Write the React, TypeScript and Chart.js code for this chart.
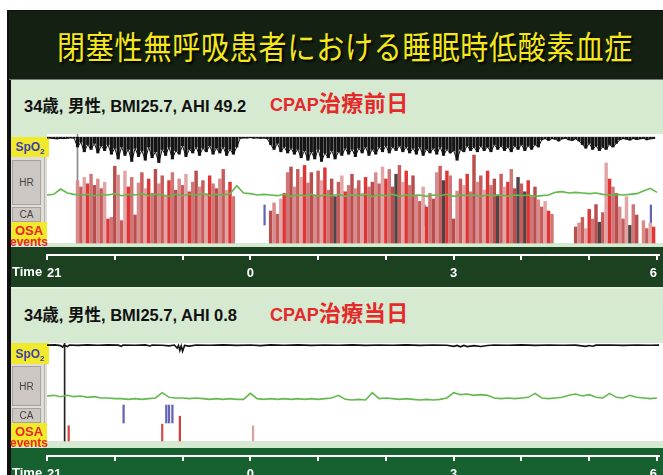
import React, { useEffect, useRef } from 'react';
import { Chart, registerables } from 'chart.js';

Chart.register(...registerables);

// ---------------- text ----------------
const titleText = '閉塞性無呼吸患者における睡眠時低酸素血症';
const patientText = ['34歳, 男性, BMI25.7, AHI 49.2', '34歳, 男性, BMI25.7, AHI 0.8'];
const conditionPrefix = 'CPAP';
const conditionText = ['治療前日', '治療当日'];
const timeTickLabels = ['21', '', '', '0', '', '', '3', '', '', '6'];
const timeAxisTitle = 'Time';

// ---------------- panel 1 (before CPAP) ----------------
// one value per 3-minute slot from 21:00
const SLOT_HOURS = 0.05;
const HR_STEP_HOURS = 0.1;
const X_MAX = 9.03;
const SPO2_BASE1 = 98.2;

const spo2Low1 = [
  97.6, 97.4, 97.0, 96.8, 97.2, 97.0, 97.3, 97.6, 97.4,
  90, 94, 86, 92, 88, 93, 85, 91, 87, 92,
  84, 89, 80, 90, 83, 88, 78, 89, 82, 87,
  79, 90, 81, 86, 77, 88, 83, 90, 80, 87,
  84, 91, 82, 88, 85, 90, 83, 89, 86, 91,
  84, 89, 85, 90, 83, 88, 84, 90,
  97.2, 97.6, 97.5, 97.8, 97.4, 97.6, 97.3, 97.5, 96.9,
  92, 88, 93, 86, 90, 85, 89, 84, 88, 81,
  87, 79, 86, 80, 88, 78, 85, 81, 87, 80,
  86, 83, 89, 84, 88, 82, 89, 85, 90, 83,
  88, 84, 90, 86, 91, 85, 90, 87, 91, 86,
  90, 85, 89, 84, 90, 83, 88, 85, 89, 84,
  90, 83, 88, 85, 87, 79, 88, 86, 91, 87,
  90, 86, 91, 87, 90, 86, 92, 88, 91, 87,
  90, 86, 91, 88, 92, 87, 91, 88, 92, 90,
  96, 97, 95.5, 97, 96.5, 95, 96.8, 97.2, 96, 95.5, 96.8, 95,
  92, 89, 93, 88, 91, 87, 90, 88, 92, 90, 93,
  96, 97, 96.5, 95.8, 97, 96.2, 96.8, 97.2, 96, 96.8, 97,
];

// OSA event duration (s) per slot, 0 = no event
const osaDur1 = [
  0, 0, 0, 0, 0, 0, 0, 0, 0,
  78, 70, 82, 74, 86, 72, 80, 68, 76, 30,
  32, 96, 85, 28, 90, 70, 82, 35, 75, 88,
  68, 80, 62, 92, 74, 84, 60, 78, 88, 66,
  80, 72, 86, 64, 76, 90, 70, 78, 62, 84,
  74, 68, 80, 92, 66, 76, 58,
  0, 0, 0, 0, 0, 0, 0, 0, 0, 0,
  40, 50, 36, 55, 62, 88, 95, 70, 92, 82,
  97, 75, 88, 60, 90, 78, 94, 66, 80, 58,
  76, 84, 64, 72, 86, 68, 78, 62, 82, 70,
  76, 88, 74, 95, 80, 92, 70, 86, 97, 76,
  90, 72, 84, 60, 52, 70, 45, 62, 55, 88,
  96, 78, 90, 84, 30, 65, 80, 72, 86, 64,
  110, 76, 84, 66, 90, 72, 80, 60, 86, 70,
  76, 92, 68, 82, 74, 64, 78, 58, 70, 54,
  45, 52, 40, 36,
  0, 0, 0, 0, 0, 0,
  20, 25, 32, 18, 42, 30, 48, 26, 38,
  100, 80, 70, 62, 45, 30, 58, 22, 48, 35, 0,
  28, 18, 25, 20,
];
const mixedSlots1 = [85, 103, 117, 133, 139, 141, 163, 172];

// heart rate (bpm) every 6 minutes
const hr1 = [
  70, 71, 79, 73, 71, 70, 71, 69, 71, 70,
  72, 69, 71, 70, 72, 69, 71, 70, 68, 71,
  69, 71, 70, 72, 69, 71, 70, 72, 84, 73,
  72, 70, 71, 70, 69, 71, 68, 70, 69, 71,
  68, 70, 69, 71, 68, 70, 69, 71, 68, 70,
  69, 71, 68, 70, 69, 70, 68, 70, 69, 71,
  68, 70, 69, 70, 68, 70, 69, 70, 68, 70,
  69, 70, 68, 69, 70, 74, 75, 73, 74, 73,
  72, 73, 71, 70, 71, 70, 71, 72, 76, 80,
  74,
];
const caTimes1 = [3.21, 5.57, 8.91];
const lightsOff1 = 0.45;

// ---------------- panel 2 (CPAP night) ----------------
const spo2Times2 = [
  0, 0.12, 0.2, 0.23, 0.25, 0.3, 0.33, 0.45, 0.6, 0.75,
  0.9, 1.05, 1.1, 1.12, 1.3, 1.45, 1.52, 1.55, 1.7, 1.8,
  1.88, 1.92, 1.94, 1.96, 1.98, 2.0, 2.03, 2.1, 2.2, 2.4,
  2.6, 2.8, 3.0, 3.15, 3.3, 3.5, 3.7, 3.9, 4.1, 4.3,
  4.5, 4.7, 4.9, 5.1, 5.3, 5.5, 5.7, 5.9, 6.0, 6.05,
  6.1, 6.15, 6.2, 6.3, 6.4, 6.5, 6.6, 6.8, 7.0, 7.2,
  7.4, 7.6, 7.8, 7.95, 8.0, 8.05, 8.1, 8.3, 8.5, 8.7,
  8.9, 9.03,
];
const spo2Vals2 = [
  98.2, 98.4, 97.8, 96.6, 98.1, 97.0, 98.3, 98.0, 98.4, 98.1,
  98.4, 98.2, 97.2, 98.3, 98.1, 98.4, 97.5, 98.3, 98.1, 97.6,
  98.3, 95.8, 98.0, 93.8, 97.6, 93.2, 98.0, 97.4, 98.3, 98.1,
  98.4, 98.0, 98.3, 97.8, 98.4, 98.1, 98.4, 98.0, 98.3, 98.1,
  98.4, 98.0, 98.3, 98.1, 98.4, 98.0, 98.3, 98.1, 97.2, 98.0,
  96.8, 98.0, 97.0, 97.8, 97.1, 97.9, 98.3, 98.1, 98.4, 98.0,
  98.3, 98.1, 98.2, 97.2, 97.9, 97.3, 98.2, 98.3, 98.0, 98.3,
  98.1, 98.2,
];
const hr2 = [
  73, 74, 72, 74, 72, 73, 71, 72, 70, 70,
  69, 69, 68, 69, 68, 69, 70, 78, 71, 70,
  70, 69, 70, 69, 68, 69, 68, 69, 68, 68,
  77, 69, 68, 69, 68, 69, 68, 69, 68, 69,
  68, 69, 70, 74, 68, 67, 68, 67, 78, 69,
  70, 69, 68, 69, 68, 67, 68, 67, 68, 70,
  78, 75, 76, 74, 75, 74, 70, 69, 70, 69,
  70, 71, 77, 70, 69, 70, 71, 74, 76, 73,
  75, 71, 70, 77, 71, 70, 74, 71, 70, 69,
  70,
];
const caTimes2 = [1.13, 1.76, 1.8, 1.85];
const osaTimes2 = [0.32, 1.7, 1.96, 3.04];
const osaDur2 = [19, 21, 31, 19];
const lightsOff2 = 0.26;

// ---------------- helpers ----------------
// axis range so that value v0 sits p0 px below the chart-area top and v1 sits at p1
function band(H: number, v0: number, p0: number, v1: number, p1: number) {
  const s = (p1 - p0) / (v0 - v1);
  const max = v0 + p0 / s;
  return { min: max - H / s, max };
}
const hidden = (r: { min: number; max: number }) => ({
  type: 'linear', display: false, min: r.min, max: r.max, beginAtZero: false, grace: 0,
});

const osaPalette = ['#d98c8c', '#c85c5c', '#e2a5a5', '#e03535', '#d07676', '#b94e4e'];
const osaColor = (mixed: number[]) => (ctx: any) => {
  const raw = ctx.raw;
  if (raw && mixed.includes(Math.round(raw.x / SLOT_HOURS))) return '#4e4444';
  return osaPalette[ctx.dataIndex % osaPalette.length];
};

const tickFont = { family: '"Liberation Sans", Arial, sans-serif', size: 13, weight: 'bold' as const };

function makeConfig(bands: any, datasets: any[]) {
  return {
    type: 'line',
    data: { datasets },
    options: {
      animation: false,
      responsive: false,
      devicePixelRatio: 1,
      events: [],
      layout: { padding: { left: 37, right: 0, top: 0, bottom: 0 } },
      plugins: { legend: { display: false }, tooltip: { enabled: false } },
      scales: {
        x: {
          type: 'linear',
          min: 0,
          max: X_MAX,
          offset: false,
          position: 'bottom',
          afterFit: (s: any) => { s.height = 35; },
          grid: { display: true, drawOnChartArea: false, drawTicks: true, tickLength: 5, color: '#ffffff', lineWidth: 2, offset: false },
          border: { display: true, color: '#ffffff', width: 2 },
          ticks: {
            stepSize: 1, autoSkip: false, includeBounds: false, maxRotation: 0, align: 'inner',
            color: '#ffffff', padding: 6, font: tickFont,
            callback: (v: any) => timeTickLabels[Math.round(Number(v))] ?? '',
          },
        },
        ySpO2: hidden(bands.spo2),
        yHR: hidden(bands.hr),
        yOSA: hidden(bands.osa),
        yCA: hidden(bands.ca),
        yFull: hidden(bands.full),
      },
    },
  };
}

function config1() {
  const H = 121;
  const bands = {
    spo2: band(H, 100, 1, 50, 61),
    hr: band(H, 70, 61, 40, 81),
    osa: band(H, 0, 109, 100, 29),
    ca: band(H, 0, 91, 1, 71),
    full: band(H, 0, 109, 1, 0),
  };
  const datasets = [
    {
      type: 'line', label: 'HR', yAxisID: 'yHR', order: 0,
      data: hr1.map((v, i) => ({ x: i * HR_STEP_HOURS, y: v })),
      borderColor: '#63b84e', borderWidth: 1.6, pointRadius: 0, fill: false, tension: 0,
    },
    {
      type: 'line', label: 'SpO2', yAxisID: 'ySpO2', order: 1,
      data: spo2Low1.map((v, i) => ({ x: i * SLOT_HOURS, y: v })),
      borderColor: '#111111', borderWidth: 1, pointRadius: 0, tension: 0, fill: false,
    },
    {
      type: 'bar', label: 'SpO2 dips', yAxisID: 'ySpO2', order: 1, grouped: false, barThickness: 2.5,
      data: spo2Low1.map((v, i) => ({ x: i * SLOT_HOURS, y: [v, SPO2_BASE1] })),
      backgroundColor: '#151515',
    },
    {
      type: 'bar', label: 'OSA', yAxisID: 'yOSA', order: 2, grouped: false, barThickness: 2.8,
      data: osaDur1.map((v, i) => ({ x: i * SLOT_HOURS, y: v })).filter((d) => d.y > 0),
      backgroundColor: osaColor(mixedSlots1),
    },
    {
      type: 'bar', label: 'CA', yAxisID: 'yCA', order: 2, grouped: false, barThickness: 1.6,
      data: caTimes1.map((t) => ({ x: t, y: [0, 1] })),
      backgroundColor: '#6464b4',
    },
    {
      type: 'bar', label: 'lights', yAxisID: 'yFull', order: 3, grouped: false, barThickness: 1,
      data: [{ x: lightsOff1, y: [0, 1] }],
      backgroundColor: '#8a8a8a',
    },
  ];
  return makeConfig(bands, datasets);
}

function config2() {
  const H = 113;
  const bands = {
    spo2: band(H, 100, 0, 50, 60),
    hr: band(H, 70, 55, 40, 75),
    osa: band(H, 0, 98, 100, 18),
    ca: band(H, 0, 80, 1, 62),
    full: band(H, 0, 98, 1, 0),
  };
  const datasets = [
    {
      type: 'line', label: 'HR', yAxisID: 'yHR', order: 0,
      data: hr2.map((v, i) => ({ x: i * HR_STEP_HOURS, y: v })),
      borderColor: '#63b84e', borderWidth: 1.6, pointRadius: 0, fill: false, tension: 0,
    },
    {
      type: 'line', label: 'SpO2', yAxisID: 'ySpO2', order: 1,
      data: spo2Times2.map((t, i) => ({ x: t, y: spo2Vals2[i] })),
      borderColor: '#111111', borderWidth: 1.6, pointRadius: 0, tension: 0, fill: false,
    },
    {
      type: 'bar', label: 'OSA', yAxisID: 'yOSA', order: 2, grouped: false, barThickness: 1.6,
      data: osaTimes2.map((t, i) => ({ x: t, y: osaDur2[i] })),
      backgroundColor: ['#d24848', '#cf5050', '#cc4040', '#dca0a0'],
    },
    {
      type: 'bar', label: 'CA', yAxisID: 'yCA', order: 2, grouped: false, barThickness: 1.6,
      data: caTimes2.map((t) => ({ x: t, y: [0, 1] })),
      backgroundColor: '#6464b4',
    },
    {
      type: 'bar', label: 'lights', yAxisID: 'yFull', order: 3, grouped: false, barThickness: 1,
      data: [{ x: lightsOff2, y: [0, 1] }],
      backgroundColor: '#222222',
    },
  ];
  return makeConfig(bands, datasets);
}

function Trace({ top, height, build }: { top: number; height: number; build: () => any }) {
  const ref = useRef<HTMLCanvasElement>(null);
  useEffect(() => {
    const chart = new Chart(ref.current as HTMLCanvasElement, build());
    return () => chart.destroy();
  }, []);
  return (
    <canvas
      ref={ref}
      width={653}
      height={height}
      style={{ position: 'absolute', left: 10, top, width: 653, height }}
    />
  );
}

const abs = (o: any) => ({ position: 'absolute' as const, ...o });
const latin = '"Liberation Sans", Arial, "Noto Sans CJK JP", sans-serif';

function SideLabels({ spo2Top, spo2H, hrTop, hrH, caTop, caH, osaTop, osaH }: any) {
  const grayTop = spo2Top + spo2H;
  return (
    <>
      <div style={abs({ left: 11, top: grayTop, width: 36, height: osaTop - grayTop, background: '#e0ddd9' })} />
      <div style={abs({ left: 44, top: grayTop, width: 1, height: osaTop - grayTop, background: '#b5b1ad' })} />
      <div style={abs({ left: 12, top: hrTop, width: 29, height: hrH, background: '#ccc7c3', border: '1px solid #a7a29e', boxSizing: 'border-box', display: 'flex', alignItems: 'center', justifyContent: 'center', font: `10px ${latin}`, color: '#444' })}>HR</div>
      <div style={abs({ left: 12, top: caTop, width: 29, height: caH, background: '#ccc7c3', border: '1px solid #a7a29e', boxSizing: 'border-box', display: 'flex', alignItems: 'center', justifyContent: 'center', font: `10px ${latin}`, color: '#444' })}>CA</div>
      <div style={abs({ left: 11, top: spo2Top, width: 38, height: spo2H, background: '#f1e92c', display: 'flex', alignItems: 'center', justifyContent: 'center', font: `bold 12px ${latin}`, color: '#3b3fb0' })}>
        <span>SpO<span style={{ fontSize: 8, position: 'relative', top: 3 }}>2</span></span>
      </div>
      <div style={abs({ left: 11, top: osaTop, width: 36, height: osaH, background: '#f1e92c' })} />
      <div style={abs({ left: 6, top: osaTop + 3, width: 46, textAlign: 'center', color: '#e8262b', font: `bold 13px ${latin}`, lineHeight: '11px' })}>
        OSA<br /><span style={{ fontSize: 12 }}>events</span>
      </div>
    </>
  );
}

function Condition({ top, idx }: { top: number; idx: number }) {
  return (
    <div style={abs({ left: 270, top, font: `bold 18px ${latin}`, lineHeight: '22px', color: '#e42a2a', whiteSpace: 'nowrap' })}>
      {conditionPrefix}
      <span style={{ fontSize: 22, letterSpacing: 0.5 }}>{conditionText[idx]}</span>
    </div>
  );
}

export default function App() {
  return (
    <div style={{ position: 'fixed', left: 0, top: 0, width: 663, height: 475, overflow: 'hidden', background: '#ffffff' }}>
      <div style={abs({ left: 7, top: 10, width: 656, height: 465, background: '#101010' })} />
      <div style={abs({ left: 9, top: 11, width: 654, height: 68, background: '#142112' })} />
      <div style={abs({ left: 57, top: 22, font: '28px "Noto Sans CJK JP", sans-serif', lineHeight: '40px', letterSpacing: 0.8, color: '#f4e71c', whiteSpace: 'nowrap', textShadow: '2px 2px 2px #000', transform: 'scaleY(1.15)', transformOrigin: '0 0' })}>
        {titleText}
      </div>
      <div style={abs({ left: 9, top: 79, width: 654, height: 1, background: '#777' })} />

      {/* panel 1 */}
      <div style={abs({ left: 11, top: 80, width: 652, height: 167, background: '#d6e9d1' })} />
      <div style={abs({ left: 11, top: 247, width: 652, height: 40, background: '#1b4120' })} />
      <div style={abs({ left: 11, top: 287, width: 652, height: 2, background: '#e4efe1' })} />
      <div style={abs({ left: 24, top: 96, font: `bold 16.5px ${latin}`, lineHeight: '20px', color: '#111', whiteSpace: 'nowrap' })}>{patientText[0]}</div>
      <Condition top={93} idx={0} />
      <div style={abs({ left: 47, top: 134, width: 616, height: 109, background: '#ffffff' })} />
      <SideLabels spo2Top={137} spo2H={20} hrTop={160} hrH={45} caTop={207} caH={15} osaTop={222} osaH={21} />
      <Trace top={134} height={156} build={config1} />
      <div style={abs({ left: 12, top: 264, font: `bold 13px ${latin}`, lineHeight: '15px', color: '#fff' })}>{timeAxisTitle}</div>

      {/* panel 2 */}
      <div style={abs({ left: 11, top: 289, width: 652, height: 159, background: '#d6e9d1' })} />
      <div style={abs({ left: 11, top: 448, width: 652, height: 27, background: '#17602f' })} />
      <div style={abs({ left: 24, top: 305, font: `bold 16.5px ${latin}`, lineHeight: '20px', color: '#111', whiteSpace: 'nowrap' })}>{patientText[1]}</div>
      <Condition top={303} idx={1} />
      <div style={abs({ left: 47, top: 343, width: 616, height: 98, background: '#ffffff' })} />
      <SideLabels spo2Top={343} spo2H={21} hrTop={366} hrH={40} caTop={408} caH={15} osaTop={423} osaH={23} />
      <Trace top={343} height={148} build={config2} />
      <div style={abs({ left: 12, top: 465, font: `bold 13px ${latin}`, lineHeight: '15px', color: '#fff' })}>{timeAxisTitle}</div>
    </div>
  );
}
